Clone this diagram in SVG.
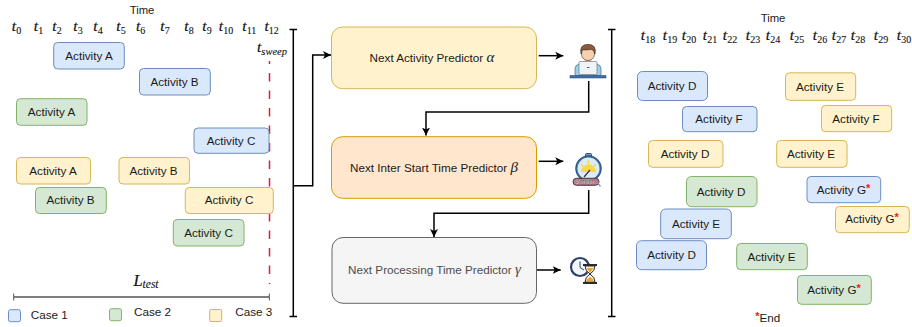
<svg xmlns="http://www.w3.org/2000/svg" width="912" height="327" viewBox="0 0 912 327">
<style>
text{font-family:"Liberation Sans",Arial,sans-serif;font-size:11.7px;fill:#1a1a1a;text-anchor:middle}
.b{fill:#dae8fc;stroke:#6c8ebf;stroke-width:1}
.g{fill:#d5e8d4;stroke:#82b366;stroke-width:1}
.y{fill:#fff2cc;stroke:#d6b656;stroke-width:1}
.o{fill:#ffe6cc;stroke:#d79b00;stroke-width:1}
.n{fill:#f5f5f5;stroke:#666666;stroke-width:1}
.c{fill:none;stroke:#000;stroke-width:1.5}
.a{marker-end:url(#ah)}
text.m{font-family:"Liberation Serif","Times New Roman",serif;font-style:italic;font-size:15.5px;fill:#111;stroke:#111;stroke-width:.2}
tspan.s{font-family:"Liberation Serif","Times New Roman",serif;font-style:normal;font-size:10px;stroke-width:.1}
tspan.si{font-family:"Liberation Serif","Times New Roman",serif;font-style:italic;font-size:10.5px;stroke-width:.1}
tspan.r{fill:#f01818;font-size:11px;font-weight:bold}
text.l{text-anchor:start}
text.t{font-size:11.3px}
tspan.gk{font-family:"Liberation Serif",serif;font-style:italic;font-size:15px}
</style>
<defs>
<marker id="ah" markerUnits="userSpaceOnUse" markerWidth="9" markerHeight="9" refX="8" refY="4.5" orient="auto"><path d="M0 .5L8 4.5L0 8.5L2 4.5Z" fill="#000"/></marker>
</defs>

<g id="sweep-line"><path d="M269.5 61V284" fill="none" stroke="#d8203a" stroke-width="1.5" stroke-dasharray="8.5 9" stroke-dashoffset="5.5"/></g>

<g id="time-axis-left">
<text class="t" x="142" y="14">Time</text>
<g>
<text class="m" x="16.5" y="31">t<tspan class="s" dy="2.5">0</tspan></text>
<text class="m" x="38.5" y="31">t<tspan class="s" dy="2.5">1</tspan></text>
<text class="m" x="57" y="31">t<tspan class="s" dy="2.5">2</tspan></text>
<text class="m" x="78" y="31">t<tspan class="s" dy="2.5">3</tspan></text>
<text class="m" x="98" y="31">t<tspan class="s" dy="2.5">4</tspan></text>
<text class="m" x="121" y="31">t<tspan class="s" dy="2.5">5</tspan></text>
<text class="m" x="140.6" y="31">t<tspan class="s" dy="2.5">6</tspan></text>
<text class="m" x="165" y="31">t<tspan class="s" dy="2.5">7</tspan></text>
<text class="m" x="189" y="31">t<tspan class="s" dy="2.5">8</tspan></text>
<text class="m" x="207" y="31">t<tspan class="s" dy="2.5">9</tspan></text>
<text class="m" x="226" y="31">t<tspan class="s" dy="2.5">10</tspan></text>
<text class="m" x="249.3" y="31">t<tspan class="s" dy="2.5">11</tspan></text>
<text class="m" x="271.7" y="31">t<tspan class="s" dy="2.5">12</tspan></text>
</g>
<text class="m" x="272" y="52">t<tspan class="si" dy="2.5">sweep</tspan></text>
</g>

<g id="left-a-blue"><rect class="b" x="53.7" y="42.5" width="70.6" height="26.5" rx="4"/><text x="89" y="60">Activity A</text></g>
<g id="left-b-blue"><rect class="b" x="139.5" y="68.5" width="70.8" height="26.5" rx="4"/><text x="174.5" y="86">Activity B</text></g>
<g id="left-a-green"><rect class="g" x="16.5" y="98.7" width="70.5" height="26.6" rx="4"/><text x="51.5" y="116">Activity A</text></g>
<g id="left-c-blue"><rect class="b" x="194" y="128" width="75" height="25.3" rx="4"/><text x="231" y="145">Activity C</text></g>
<g id="left-a-yellow"><rect class="y" x="16.5" y="157.5" width="74" height="26.5" rx="4"/><text x="53" y="175">Activity A</text></g>
<g id="left-b-yellow"><rect class="y" x="119" y="157.5" width="70.5" height="26.5" rx="4"/><text x="153.5" y="175">Activity B</text></g>
<g id="left-b-green"><rect class="g" x="35.5" y="187.5" width="70.8" height="26" rx="4"/><text x="70.5" y="204">Activity B</text></g>
<g id="left-c-yellow"><rect class="y" x="185.3" y="187.5" width="88" height="26" rx="4"/><text x="229" y="204">Activity C</text></g>
<g id="left-c-green"><rect class="g" x="173.3" y="219.5" width="70.7" height="26.5" rx="4"/><text x="208.5" y="237">Activity C</text></g>

<g id="l-test">
<text class="m" x="146" y="285.5" style="font-size:16.5px">L<tspan class="si" dy="2.5" style="font-size:11.5px">test</tspan></text>
<path d="M13.7 297H269.3" fill="none" stroke="#555" stroke-width="1.5"/>
<path d="M13.7 293.500V300.500M269.300 293.500V300.500" fill="none" stroke="#555" stroke-width="1"/>
</g>

<g id="legend-case-1"><rect class="b" x="8.5" y="309.7" width="12" height="12" rx="2"/><text class="l" x="30.7" y="319">Case 1</text></g>
<g id="legend-case-2"><rect class="g" x="109.5" y="308.7" width="12" height="12" rx="2"/><text class="l" x="134" y="316">Case 2</text></g>
<g id="legend-case-3"><rect class="y" x="209.7" y="309.5" width="12" height="12" rx="1"/><text class="l" x="235.3" y="316">Case 3</text></g>

<g id="connectors">
<path class="c" d="M289.5 29.5H297M293.3 29.5V316.5M289.5 316.5H297"/>
<path class="c" d="M608 29.5H615.5M611.7 29.5V316.5M608 316.5H615.5"/>
<path class="c a" d="M293.3 185.7H312.7V55H331"/>
<path class="c a" d="M538.7 55.7H563.3"/>
<path class="c a" d="M538.7 161.3H563.3"/>
<path class="c a" d="M536.7 270H560.7"/>
<path class="c a" d="M588.7 81V112H426V135.5"/>
<path class="c a" d="M588.7 190V213.3H434V237"/>
</g>

<g id="predictor-alpha"><rect class="y" x="331.5" y="27" width="205" height="61.7" rx="11"/><text x="432" y="61.5">Next Activity Predictor <tspan class="gk">α</tspan></text></g>
<g id="predictor-beta"><rect class="o" x="331.5" y="136.7" width="205" height="61.6" rx="11"/><text x="434" y="171.5">Next Inter Start Time Predictor <tspan class="gk">β</tspan></text></g>
<g id="predictor-gamma"><rect class="n" x="332" y="237.5" width="204.5" height="65.8" rx="11"/><text x="434.5" y="274" style="fill:#4d4d4d">Next Processing Time Predictor <tspan class="gk" style="fill:#4d4d4d">γ</tspan></text></g>

<g id="icon-person">
<path d="M575 75.500V69Q575 65 579 64H597Q601 65 601 69V75.500Z" fill="#9bd0ea" stroke="#33566f" stroke-width=".6"/>
<rect x="584.500" y="57" width="7" height="6" fill="#f5c9a8"/>
<circle cx="588" cy="54" r="6.500" fill="#f7d0b0" stroke="#3a2a20" stroke-width=".6"/>
<path d="M581 54Q579 44.500 588 44.300Q597 44.500 595 54Q594 49 590 49.500Q585 50.500 582.500 49.500Q581.500 51 581 54Z" fill="#8a5a3a" stroke="#3a2a20" stroke-width=".6"/>
<rect x="579" y="61.500" width="18" height="13" rx="1" fill="#eef3f8" stroke="#667" stroke-width=".6"/>
<rect x="587" y="67" width="2.500" height="1" fill="#556"/>
<rect x="570" y="75.500" width="36" height="2.500" fill="#3f6ea6" stroke="#2b4a66" stroke-width=".5"/>
</g>

<g id="icon-stopwatch">
<rect x="585.500" y="153.500" width="6" height="3.500" rx="1" fill="#6a9ccc" stroke="#24344d" stroke-width=".8"/>
<circle cx="588.500" cy="168.500" r="12" fill="#dcebf5" stroke="#3a6ea5" stroke-width="2"/>
<circle cx="588.500" cy="168.500" r="12.900" fill="none" stroke="#24344d" stroke-width=".6"/>
<path d="M581 172A7.500 7.500 0 0 1 596 172Z" fill="#f7d84a"/>
<path d="M588.500 172V160M581 164L584 167M596 164L593 167" stroke="#f7d84a" stroke-width="1.300" fill="none"/>
<path d="M584 177L590 170" stroke="#333" stroke-width="1.200"/>
<rect x="573" y="178.300" width="26" height="7" rx="3.500" fill="#c77a8a" stroke="#3a2a3a" stroke-width=".9"/>
<text x="586" y="184" style="font-size:6px;font-weight:bold;fill:#fff;stroke:#222;stroke-width:.25">START</text>
<path d="M598 183L600.500 186.500" stroke="#7aa6c8" stroke-width="1.500"/>
</g>

<g id="icon-clock-hourglass">
<circle cx="580" cy="267" r="9" fill="#f3f6fa" stroke="#2e3f6b" stroke-width="2.200"/>
<path d="M580 261.500V267.500L584 270" fill="none" stroke="#2e3f6b" stroke-width="1"/>
<path d="M583 265H597M583 283H597" stroke="#2a2a2a" stroke-width="1.800"/>
<path d="M585 266H595Q595 271 590 274Q595 277 595 282H585Q585 277 590 274Q585 271 585 266Z" fill="#fbf3df" stroke="#2a2a2a" stroke-width="1"/>
<path d="M586.500 268H593.500L590 273ZM586 281.500Q587 278 590 277Q593 278 594 281.500Z" fill="#e8a33a"/>
</g>

<g id="time-axis-right">
<text class="t" x="773" y="22">Time</text>
<g>
<text class="m" x="648" y="40">t<tspan class="s" dy="2.5">18</tspan></text>
<text class="m" x="670" y="40">t<tspan class="s" dy="2.5">19</tspan></text>
<text class="m" x="689" y="40">t<tspan class="s" dy="2.5">20</tspan></text>
<text class="m" x="710" y="40">t<tspan class="s" dy="2.5">21</tspan></text>
<text class="m" x="730" y="40">t<tspan class="s" dy="2.5">22</tspan></text>
<text class="m" x="753" y="40">t<tspan class="s" dy="2.5">23</tspan></text>
<text class="m" x="773" y="40">t<tspan class="s" dy="2.5">24</tspan></text>
<text class="m" x="797" y="40">t<tspan class="s" dy="2.5">25</tspan></text>
<text class="m" x="820" y="40">t<tspan class="s" dy="2.5">26</tspan></text>
<text class="m" x="839" y="40">t<tspan class="s" dy="2.5">27</tspan></text>
<text class="m" x="858" y="40">t<tspan class="s" dy="2.5">28</tspan></text>
<text class="m" x="881" y="40">t<tspan class="s" dy="2.5">29</tspan></text>
<text class="m" x="904" y="40">t<tspan class="s" dy="2.5">30</tspan></text>
</g>
</g>

<g id="right-d-blue"><rect class="b" x="637.500" y="71.500" width="70" height="29" rx="5"/><text x="672" y="90">Activity D</text></g>
<g id="right-f-blue"><rect class="b" x="682.500" y="106.500" width="74.500" height="25.200" rx="4"/><text x="719" y="123">Activity F</text></g>
<g id="right-e-yellow"><rect class="y" x="785.500" y="72.800" width="70.200" height="27.500" rx="4"/><text x="820" y="91">Activity E</text></g>
<g id="right-f-yellow"><rect class="y" x="821.500" y="105.500" width="70.200" height="26.200" rx="4"/><text x="856" y="123">Activity F</text></g>
<g id="right-d-yellow"><rect class="y" x="648.500" y="140.500" width="74.500" height="26.800" rx="4"/><text x="685" y="158">Activity D</text></g>
<g id="right-e-yellow-2"><rect class="y" x="776.700" y="140.500" width="70.300" height="26.800" rx="4"/><text x="811" y="158">Activity E</text></g>
<g id="right-d-green"><rect class="g" x="686.500" y="176.500" width="70.500" height="30.200" rx="5"/><text x="721" y="196">Activity D</text></g>
<g id="right-g-blue"><rect class="b" x="807" y="176.500" width="73.700" height="26.200" rx="4"/><text x="843.500" y="194">Activity G<tspan class="r" dy="-2">*</tspan></text></g>
<g id="right-g-yellow"><rect class="y" x="835.500" y="206.500" width="73.800" height="26.200" rx="4"/><text x="872" y="223">Activity G<tspan class="r" dy="-2">*</tspan></text></g>
<g id="right-e-blue"><rect class="b" x="660.700" y="209" width="70.600" height="29.700" rx="5"/><text x="696" y="228">Activity E</text></g>
<g id="right-d-blue-2"><rect class="b" x="636.500" y="240.700" width="70" height="29" rx="5"/><text x="671.500" y="259">Activity D</text></g>
<g id="right-e-green"><rect class="g" x="736.700" y="243.500" width="70.600" height="26.200" rx="4"/><text x="771.500" y="261">Activity E</text></g>
<g id="right-g-green"><rect class="g" x="797.500" y="275.500" width="73.800" height="28.800" rx="4"/><text x="834" y="294">Activity G<tspan class="r" dy="-2">*</tspan></text></g>
<g id="end-note"><text x="767.700" y="321.500"><tspan class="r" dy="-2">*</tspan><tspan dy="2">End</tspan></text></g>
</svg>
